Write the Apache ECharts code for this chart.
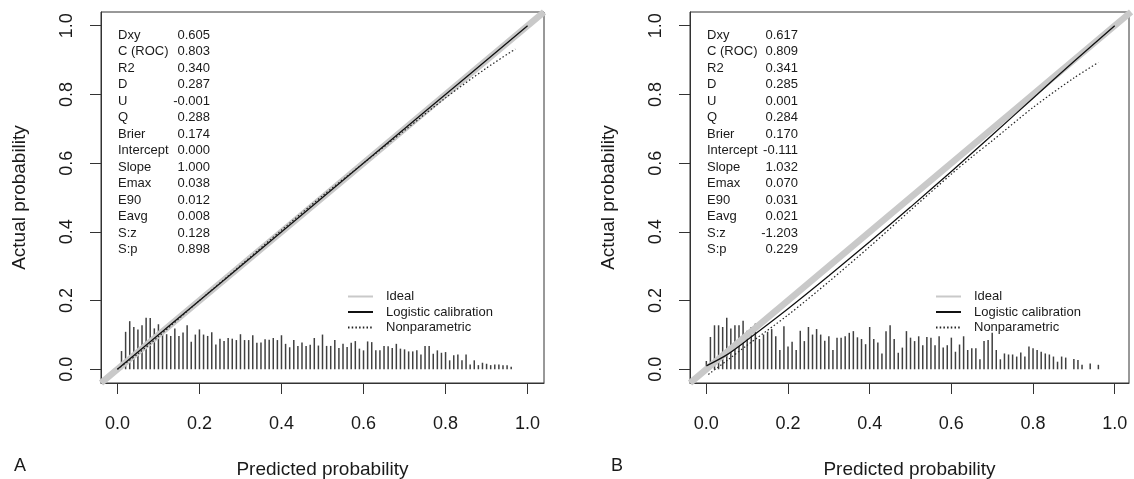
<!DOCTYPE html>
<html lang="en">
  <head>
    <meta charset="UTF-8" />
    <title>Calibration plots A and B</title>
    <script src="https://cdn.jsdelivr.net/npm/echarts@6.0.0/dist/echarts.min.js"></script>
    <style>
      body {
        margin: 0;
        background-color: #ffffff;
      }
      #chart {
        width: 1134px;
        height: 479px;
      }
    </style>
  </head>
  <body>
    <div id="chart"></div>
    <script>
      const chart = echarts.init(document.getElementById("chart"));

      // bin positions of the spike histogram (predicted probability)
      var bins = [
        0.0, 0.01, 0.02, 0.03, 0.04, 0.05, 0.06, 0.07, 0.08, 0.09, 0.1, 0.11,
        0.12, 0.13, 0.14, 0.15, 0.16, 0.17, 0.18, 0.19, 0.2, 0.21, 0.22, 0.23,
        0.24, 0.25, 0.26, 0.27, 0.28, 0.29, 0.3, 0.31, 0.32, 0.33, 0.34, 0.35,
        0.36, 0.37, 0.38, 0.39, 0.4, 0.41, 0.42, 0.43, 0.44, 0.45, 0.46, 0.47,
        0.48, 0.49, 0.5, 0.51, 0.52, 0.53, 0.54, 0.55, 0.56, 0.57, 0.58, 0.59,
        0.6, 0.61, 0.62, 0.63, 0.64, 0.65, 0.66, 0.67, 0.68, 0.69, 0.7, 0.71,
        0.72, 0.73, 0.74, 0.75, 0.76, 0.77, 0.78, 0.79, 0.8, 0.81, 0.82, 0.83,
        0.84, 0.85, 0.86, 0.87, 0.88, 0.89, 0.9, 0.91, 0.92, 0.93, 0.94, 0.95,
        0.96,
      ];

      // spike heights, panel A
      var spikesA = [
        0, 0.053, 0.109, 0.14, 0.123, 0.116, 0.128, 0.15, 0.149, 0.119, 0.131,
        0.109, 0.102, 0.097, 0.119, 0.097, 0.107, 0.128, 0.08, 0.101, 0.116,
        0.101, 0.097, 0.108, 0.072, 0.089, 0.082, 0.091, 0.089, 0.085, 0.102,
        0.085, 0.085, 0.099, 0.077, 0.078, 0.087, 0.086, 0.091, 0.085, 0.099,
        0.074, 0.064, 0.085, 0.068, 0.078, 0.068, 0.071, 0.091, 0.069, 0.101,
        0.068, 0.068, 0.085, 0.062, 0.074, 0.065, 0.077, 0.082, 0.06, 0.055,
        0.081, 0.079, 0.055, 0.055, 0.068, 0.067, 0.062, 0.074, 0.06, 0.058,
        0.052, 0.052, 0.055, 0.043, 0.068, 0.068, 0.045, 0.055, 0.048, 0.05,
        0.026, 0.041, 0.043, 0.026, 0.043, 0.014, 0.026, 0.012, 0.019, 0.016,
        0.012, 0.014, 0.014, 0.012, 0.012, 0.007,
      ];

      // spike heights, panel B
      var spikesB = [
        0.024, 0.094, 0.128, 0.128, 0.123, 0.15, 0.119, 0.128, 0.128, 0.141,
        0.112, 0.123, 0.133, 0.088, 0.101, 0.109, 0.117, 0.096, 0.056, 0.125,
        0.066, 0.08, 0.056, 0.112, 0.082, 0.123, 0.101, 0.117, 0.101, 0.083,
        0.096, 0.056, 0.092, 0.092, 0.096, 0.106, 0.111, 0.093, 0.088, 0.073,
        0.123, 0.088, 0.078, 0.046, 0.111, 0.128, 0.088, 0.048, 0.063, 0.111,
        0.092, 0.082, 0.096, 0.07, 0.094, 0.092, 0.07, 0.096, 0.063, 0.07,
        0.092, 0.051, 0.072, 0.096, 0.056, 0.061, 0.061, 0.029, 0.082, 0.085,
        0.106, 0.056, 0.029, 0.046, 0.043, 0.043, 0.037, 0.049, 0.037, 0.066,
        0.061, 0.056, 0.051, 0.046, 0.043, 0.037, 0.022, 0.037, 0.034, 0,
        0.03, 0.027, 0.013, 0, 0.017, 0, 0.013,
      ];

      // ideal diagonal
      var idealX = [-0.04, 1.04];
      var idealY = [-0.04, 1.04];

      // logistic calibration curves
      var logisticAX = [0.0, 0.25, 0.5, 0.75, 1.0];
      var logisticAY = [0.0, 0.25, 0.5, 0.75, 1.0];
      var logisticBX = [0.0, 0.05, 0.1, 0.2, 0.3, 0.4, 0.5, 0.6, 0.7, 0.8, 0.9, 1.0];
      var logisticBY = [0.01, 0.042, 0.085, 0.176, 0.272, 0.371, 0.472, 0.576, 0.682, 0.789, 0.896, 1.0];

      // nonparametric curves
      var nonparAX = [0.0, 0.05, 0.1, 0.2, 0.3, 0.4, 0.5, 0.6, 0.7, 0.8, 0.9, 0.97];
      var nonparAY = [0.0, 0.045, 0.095, 0.2, 0.302, 0.405, 0.505, 0.6, 0.695, 0.79, 0.877, 0.932];
      var nonparBX = [0.005, 0.05, 0.1, 0.2, 0.3, 0.4, 0.5, 0.6, 0.65, 0.7, 0.8, 0.9, 0.96];
      var nonparBY = [-0.015, 0.025, 0.07, 0.158, 0.255, 0.357, 0.463, 0.568, 0.618, 0.665, 0.762, 0.848, 0.893];

      // statistics printed in the corner
      var statNames = ["Dxy", "C (ROC)", "R2", "D", "U", "Q", "Brier", "Intercept", "Slope", "Emax", "E90", "Eavg", "S:z", "S:p"];
      var statsA = ["0.605", "0.803", "0.340", "0.287", "-0.001", "0.288", "0.174", "0.000", "1.000", "0.038", "0.012", "0.008", "0.128", "0.898"];
      var statsB = ["0.617", "0.809", "0.341", "0.285", "0.001", "0.284", "0.170", "-0.111", "1.032", "0.070", "0.031", "0.021", "-1.203", "0.229"];

      var ticks = [0.0, 0.2, 0.4, 0.6, 0.8, 1.0];
      var legendNames = ["Ideal", "Logistic calibration", "Nonparametric"];

      const font = "'Liberation Sans', Arial, sans-serif";
      const ink = "#1a1a1a";

      function zip(xs, ys) {
        return xs.map((x, i) => [x, ys[i]]);
      }

      function xAxisFor(idx, max) {
        return {
          gridIndex: idx,
          type: "value",
          min: -0.04,
          max: max,
          splitLine: { show: false },
          axisLine: { show: true, onZero: false, lineStyle: { color: "#333", width: 1 } },
          axisTick: {
            show: true,
            inside: false,
            length: 11,
            customValues: ticks,
            lineStyle: { color: "#333", width: 1 },
          },
          axisLabel: {
            customValues: ticks,
            formatter: (v) => v.toFixed(1),
            fontSize: 18,
            fontFamily: font,
            color: ink,
            margin: 32,
          },
          name: "Predicted probability",
          nameLocation: "middle",
          nameGap: 77,
          nameTextStyle: { fontSize: 19, fontFamily: font, color: ink },
        };
      }

      function yAxisFor(idx) {
        return {
          gridIndex: idx,
          type: "value",
          min: -0.04,
          max: 1.04,
          splitLine: { show: false },
          axisLine: { show: true, onZero: false, lineStyle: { color: "#333", width: 1 } },
          axisTick: {
            show: true,
            inside: false,
            length: 11,
            customValues: ticks,
            lineStyle: { color: "#333", width: 1 },
          },
          axisLabel: {
            customValues: ticks,
            formatter: (v) => v.toFixed(1),
            rotate: 90,
            fontSize: 18,
            fontFamily: font,
            color: ink,
            margin: 25,
          },
          name: "Actual probability",
          nameLocation: "middle",
          nameGap: 72,
          nameTextStyle: { fontSize: 19, fontFamily: font, color: ink },
        };
      }

      function spikeSeries(idx, heights) {
        return {
          name: "spikes",
          type: "custom",
          xAxisIndex: idx,
          yAxisIndex: idx,
          data: zip(bins, heights).filter((d) => d[1] > 0),
          renderItem: function (params, api) {
            const p0 = api.coord([api.value(0), 0]);
            const p1 = api.coord([api.value(0), api.value(1)]);
            return {
              type: "line",
              shape: { x1: p0[0], y1: p0[1], x2: p1[0], y2: p1[1] },
              style: { stroke: "#404040", lineWidth: 1.5 },
            };
          },
          silent: true,
        };
      }

      function lineSeries(idx, name, data, style) {
        return {
          name: name,
          type: "line",
          xAxisIndex: idx,
          yAxisIndex: idx,
          data: data,
          symbol: "none",
          smooth: 0.3,
          lineStyle: style,
          itemStyle: { color: style.color, opacity: 0 },
          silent: true,
        };
      }

      const idealStyle = { color: "#c9c9c9", width: 6.5, cap: "butt" };
      const logisticStyle = { color: "#111111", width: 1.3 };
      const nonparStyle = { color: "#222222", width: 1.2, type: [1.5, 2.2] };

      function statsGraphic(left, right, values) {
        const items = [];
        statNames.forEach((n, i) => {
          const y = 35 + 16.5 * i;
          items.push({
            type: "text",
            x: left,
            y: y,
            style: { text: n, font: "13px " + font, fill: ink, textAlign: "left", textVerticalAlign: "middle" },
          });
          items.push({
            type: "text",
            x: right,
            y: y,
            style: { text: values[i], font: "13px " + font, fill: ink, textAlign: "right", textVerticalAlign: "middle" },
          });
        });
        return items;
      }

      function legendFor(left) {
        return {
          data: legendNames,
          orient: "vertical",
          left: left,
          top: 285,
          itemWidth: 25,
          itemHeight: 12,
          itemGap: 2.5,
          selectedMode: false,
          itemStyle: { opacity: 0 },
          textStyle: {
            fontSize: 13,
            fontFamily: font,
            color: ink,
            padding: [0, 0, 0, 8],
          },
        };
      }

      function gridAt(left, width) {
        return {
          left: left,
          top: 12,
          width: width,
          height: 371,
          containLabel: false,
          outerBoundsMode: "none",
          show: true,
          borderColor: "#333",
          borderWidth: 1,
          backgroundColor: "transparent",
        };
      }

      const options = {
        animation: false,
        grid: [gridAt(101, 443), gridAt(690, 439)],
        xAxis: [xAxisFor(0, 1.04), xAxisFor(1, 1.035)],
        yAxis: [yAxisFor(0), yAxisFor(1)],
        legend: [legendFor(342), legendFor(930)],
        graphic: [
          ...statsGraphic(118, 210, statsA),
          ...statsGraphic(707, 798, statsB),
          { type: "text", x: 14, y: 466, style: { text: "A", font: "18px " + font, fill: ink, textVerticalAlign: "middle" } },
          { type: "text", x: 611, y: 466, style: { text: "B", font: "18px " + font, fill: ink, textVerticalAlign: "middle" } },
        ],
        series: [
          lineSeries(0, "Ideal", zip(idealX, idealY), idealStyle),
          spikeSeries(0, spikesA),
          lineSeries(0, "Logistic calibration", zip(logisticAX, logisticAY), logisticStyle),
          lineSeries(0, "Nonparametric", zip(nonparAX, nonparAY), nonparStyle),
          lineSeries(1, "Ideal", zip(idealX, idealY), idealStyle),
          spikeSeries(1, spikesB),
          lineSeries(1, "Logistic calibration", zip(logisticBX, logisticBY), logisticStyle),
          lineSeries(1, "Nonparametric", zip(nonparBX, nonparBY), nonparStyle),
        ],
      };

      chart.setOption(options);
    </script>
  </body>
</html>
